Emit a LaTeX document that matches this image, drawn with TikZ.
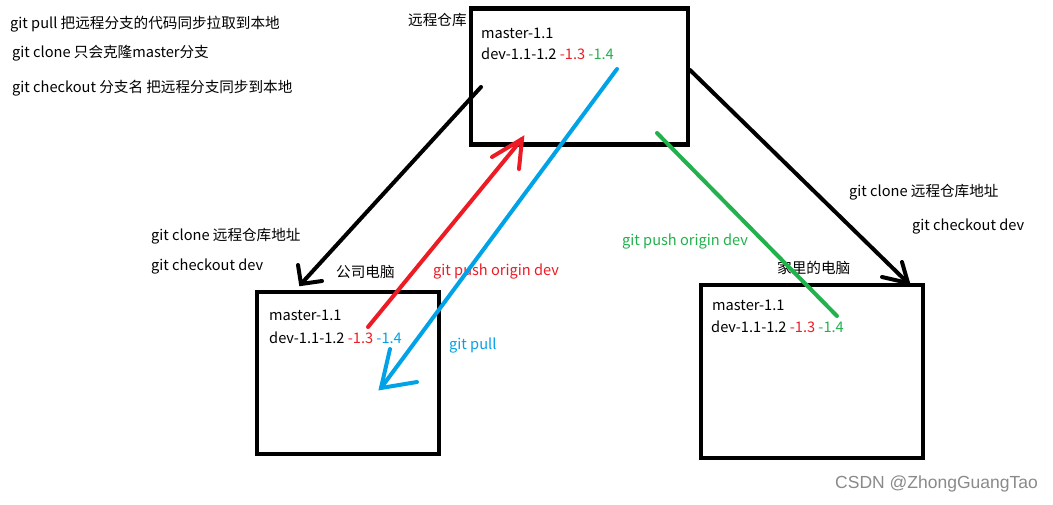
\documentclass[tikz,border=0pt]{standalone}
\usepackage{fontspec}
\setmainfont{Noto Sans CJK SC}
\newfontfamily\wmfont{Liberation Sans}
\definecolor{pred}{HTML}{ED1C24}
\definecolor{pblue}{HTML}{00A2E8}
\definecolor{pgreen}{HTML}{22B14C}
\definecolor{wmgray}{HTML}{8A8A8A}
\begin{document}
\begin{tikzpicture}[x=1pt,y=-1pt,
  box/.style={draw=black, line width=4.5pt, inner sep=0pt},
  lbl/.style={anchor=west, inner sep=0pt, font=\fontsize{14.6}{17}\selectfont},
  stroke/.style={line width=4pt, line cap=round}]
\useasboundingbox[fill=white] (0,0) rectangle (1053,504);

% boxes
\node[box, minimum width=217pt, minimum height=136pt] (remote) at (579.5,76.5) {};
\node[box, minimum width=182pt, minimum height=162pt] (company) at (348,373) {};
\node[box, minimum width=222pt, minimum height=173pt] (home) at (812,371.5) {};

% top-left notes
\node[lbl] (n1) at (10,24) {git pull 把远程分支的代码同步拉取到本地};
\node[lbl] (n2) at (12,53) {git clone 只会克隆master分支};
\node[lbl] (n3) at (12,88) {git checkout 分支名 把远程分支同步到本地};

% remote
\node[lbl] (rt) at (408,20) {远程仓库};
\node[lbl] (rm) at (481,33) {master-1.1};
\node[lbl] (rd) at (481,54) {dev-1.1-1.2 \textcolor{pred}{-1.3} \textcolor{pgreen}{-1.4}};

% company
\node[lbl] (ct) at (336,272) {公司电脑};
\node[lbl] (cm) at (269,315) {master-1.1};
\node[lbl] (cd) at (269,338) {dev-1.1-1.2 \textcolor{pred}{-1.3} \textcolor{pblue}{-1.4}};
\node[lbl] (lc1) at (151,236) {git clone 远程仓库地址};
\node[lbl] (lc2) at (151,267) {git checkout dev};

% home
\node[lbl] (ht) at (777,268) {家里的电脑};
\node[lbl] (hm) at (712,305) {master-1.1};
\node[lbl] (hd) at (711,327) {dev-1.1-1.2 \textcolor{pred}{-1.3} \textcolor{pgreen}{-1.4}};
\node[lbl] (rc1) at (849,192) {git clone 远程仓库地址};
\node[lbl] (rc2) at (912,227) {git checkout dev};

% arrow labels
\node[lbl, text=pred] (pushr) at (433,272) {git push origin dev};
\node[lbl, text=pgreen] (pushg) at (622,242) {git push origin dev};
\node[lbl, text=pblue] (pull) at (449,346) {git pull};

% watermark
\node[anchor=west, inner sep=0pt, text=wmgray, font=\wmfont\fontsize{17.5}{20}\selectfont] (wm) at (835,484) {CSDN @ZhongGuangTao};

% coordinates for strokes
\coordinate (bls) at (481,87);
\coordinate (blt) at (301,284);
\coordinate (blb1) at (298,265);
\coordinate (blb2) at (322,281);

\coordinate (brs) at (690,70);
\coordinate (brt) at (908,283);
\coordinate (brb1) at (902,262);
\coordinate (brb2) at (882,277);

\coordinate (rds) at (368,327);
\coordinate (rdt) at (522,139);
\coordinate (rdb1) at (492,157);
\coordinate (rdb2) at (519,169);

\coordinate (bus) at (617,69);
\coordinate (but) at (381,388);
\coordinate (bub1) at (390,349);
\coordinate (bub2) at (417,382);

\coordinate (grs) at (657,133);
\coordinate (grt) at (837,316);

% strokes
\draw[stroke, black] (bls) -- (blt);
\draw[stroke, black] (blb1) -- (blt) -- (blb2);
\draw[stroke, black] (brs) -- (brt);
\draw[stroke, black] (brb1) -- (brt) -- (brb2);
\draw[stroke, pred] (rds) -- (rdt);
\draw[stroke, pred] (rdb1) -- (rdt) -- (rdb2);
\draw[stroke, pblue] (bus) -- (but);
\draw[stroke, pblue] (bub1) -- (but) -- (bub2);
\draw[stroke, pgreen] (grs) -- (grt);
\end{tikzpicture}
\end{document}
